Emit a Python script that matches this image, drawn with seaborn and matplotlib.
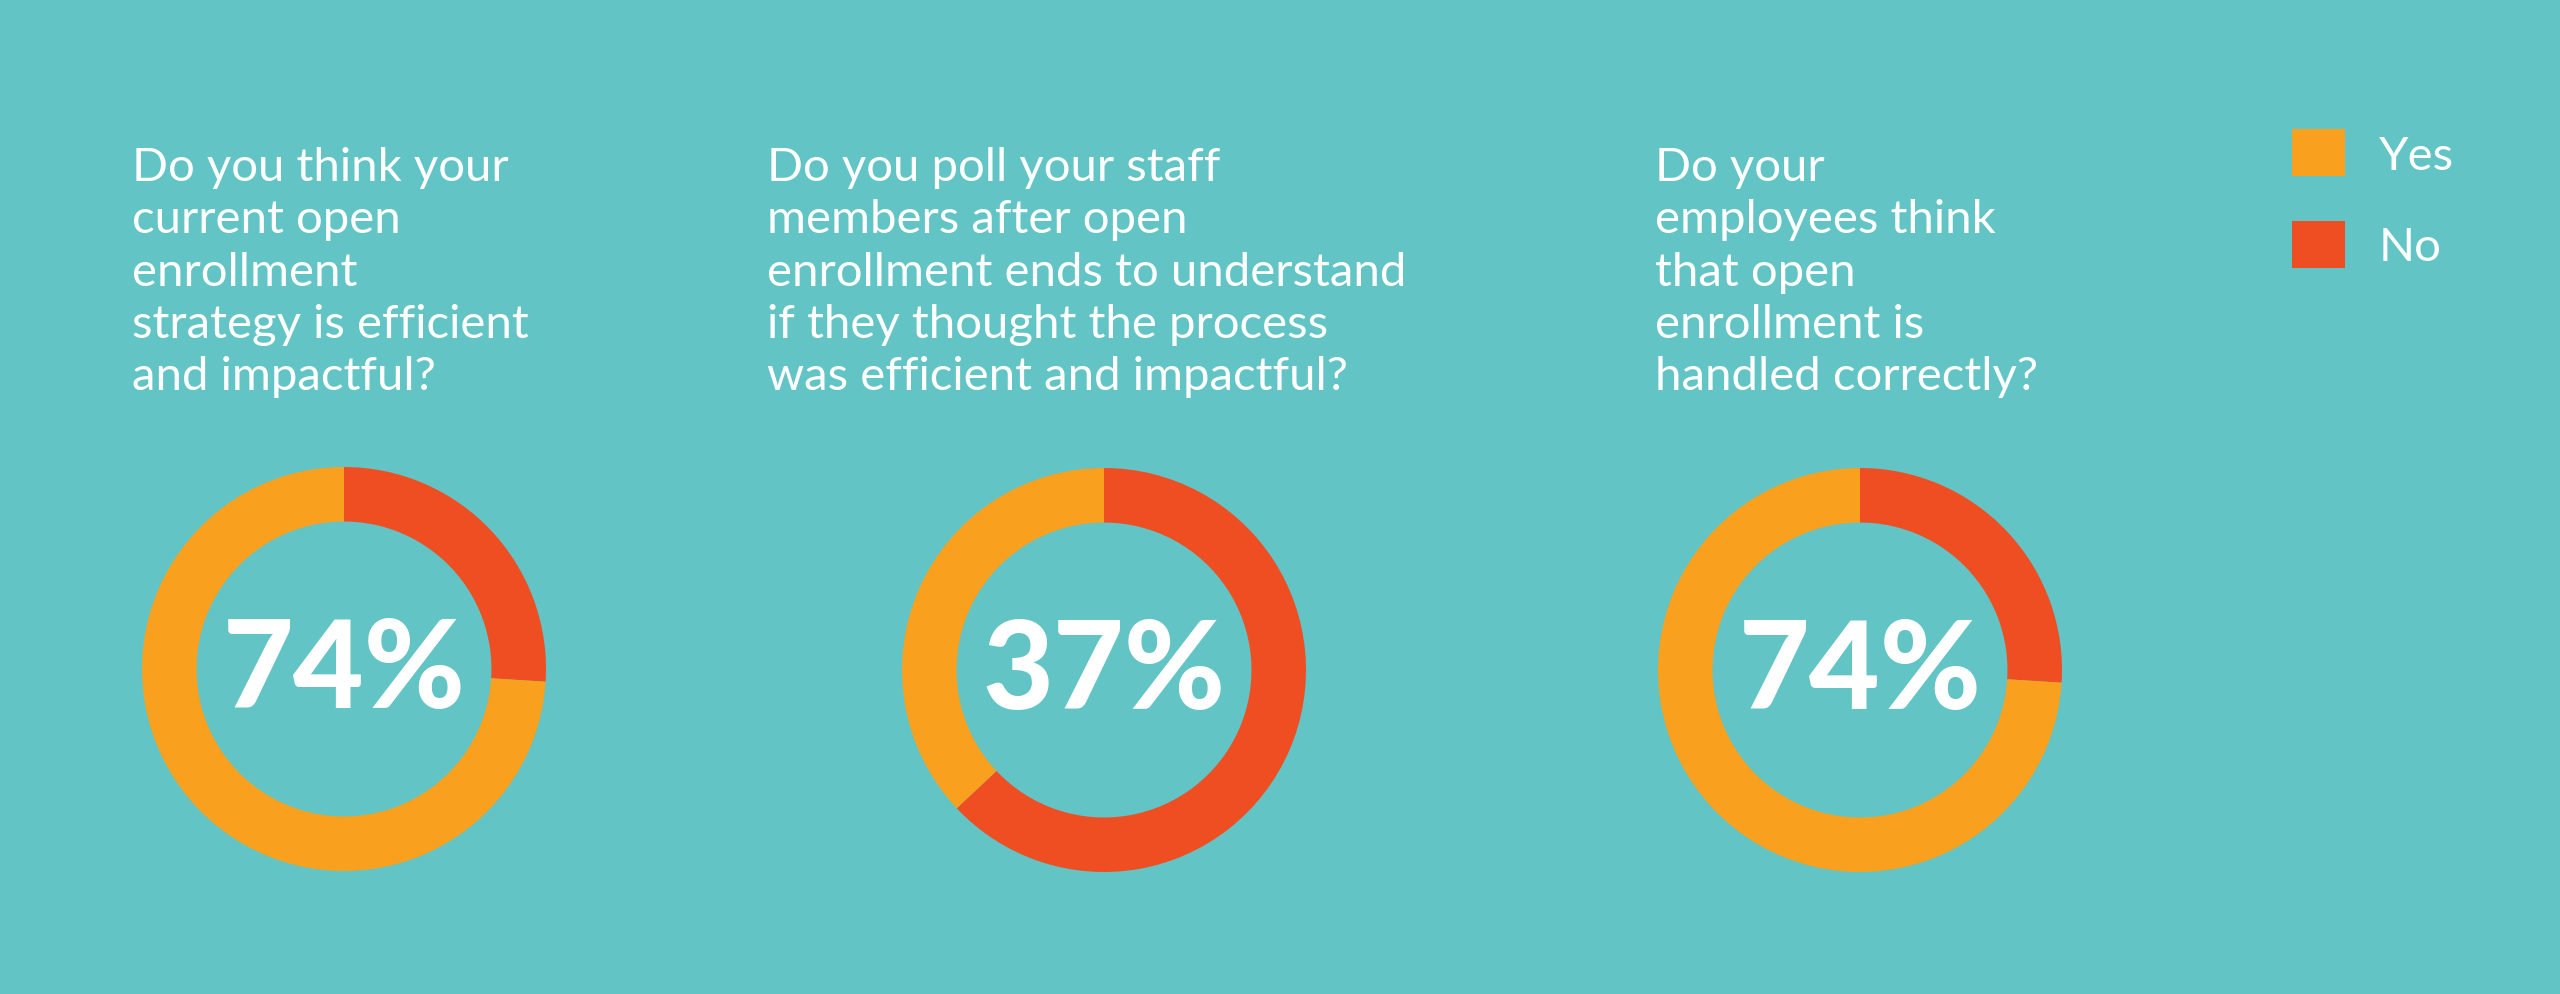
import numpy as np
import matplotlib
matplotlib.use('Agg')
import matplotlib.pyplot as plt
import seaborn as sns

# datos
questions = [
    "Do you think your\ncurrent open\nenrollment\nstrategy is efficient\nand impactful?",
    "Do you poll your staff\nmembers after open\nenrollment ends to understand\nif they thought the process\nwas efficient and impactful?",
    "Do your\nemployees think\nthat open\nenrollment is\nhandled correctly?",
]
yes_pct = [74, 37, 74]
no_pct = [26, 63, 26]
answer_labels = ["Yes", "No"]

bg = "#62C4C4"
palette = sns.color_palette(["#F9A11E", "#EF4E23"])

sns.set_style("white")
plt.rcParams['font.family'] = ['Lato', 'DejaVu Sans']

W, H = 2560, 995
fig = plt.figure(figsize=(W / 100, H / 100), dpi=100, facecolor=bg)

# centros de las donas (px)
centers = [(344, 670), (1104, 671), (1860, 671)]
radius = 202
text_x = [132, 767, 1655]

wedges_all = []
for i, (cx, cy) in enumerate(centers):
    ax = fig.add_axes([(cx - radius) / W, (H - cy - radius) / H, 2 * radius / W, 2 * radius / H])
    ax.set_facecolor(bg)
    # No primero, sentido horario desde arriba
    w, _ = ax.pie([no_pct[i], yes_pct[i]], colors=[palette[1], palette[0]],
                  startangle=90, counterclock=False, radius=1,
                  wedgeprops=dict(width=0.27, linewidth=0))
    wedges_all.append(w)
    ax.set_xlim(-1, 1)
    ax.set_ylim(-1, 1)
    ax.set_aspect('equal')
    ax.axis('off')
    ax.text(0, -0.01, f"{yes_pct[i]}%", ha='center', va='center', color='white',
            fontsize=88, fontweight='black', family=['Lato', 'DejaVu Sans'])

    # pregunta
    fig.text(text_x[i] / W, (H - 390) / H, questions[i], ha='left', va='baseline',
             color='white', fontsize=34, fontweight='normal', linespacing=1.3)

# leyenda
leg = fig.legend(handles=[wedges_all[0][1], wedges_all[0][0]], labels=answer_labels,
                 loc='upper left', bbox_to_anchor=(2292 / W, (H - 130) / H),
                 frameon=False, fontsize=34, handlelength=1.13, handleheight=1.17,
                 labelspacing=0.93, handletextpad=0.7, borderpad=0, borderaxespad=0)
for t in leg.get_texts():
    t.set_color('white')

fig.savefig('out.png', dpi=100, facecolor=bg)
